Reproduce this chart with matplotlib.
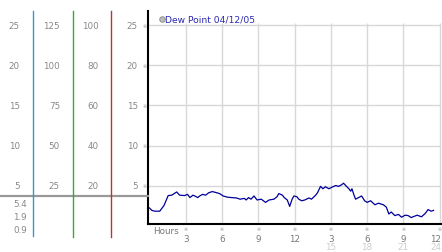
import matplotlib
matplotlib.use('Agg')
import matplotlib.pyplot as plt
import matplotlib.transforms as mtransforms
from matplotlib.lines import Line2D

# dew point readings over the day (hours, value)
hours = [0.0, 0.2, 0.45, 0.85, 1.2, 1.55, 1.85, 2.25, 2.5, 2.9, 3.15, 3.35, 3.6, 3.75,
         4.0, 4.15, 4.4, 4.65, 4.9, 5.2, 5.45, 5.8, 6.1, 6.45, 6.8, 7.2, 7.5, 7.85, 8.0,
         8.2, 8.4, 8.65, 8.9, 9.25, 9.6, 9.9, 10.3, 10.55, 10.7, 11.0, 11.15, 11.4, 11.6,
         11.8, 11.95, 12.2, 12.35, 12.6, 12.85, 13.2, 13.4, 13.75, 13.9, 14.15, 14.35,
         14.55, 14.85, 15.1, 15.4, 15.65, 15.9, 16.05, 16.3, 16.5, 16.65, 16.75, 16.9,
         17.05, 17.3, 17.55, 17.8, 18.0, 18.3, 18.65, 18.95, 19.35, 19.6, 19.8, 20.0,
         20.3, 20.6, 20.85, 21.15, 21.4, 21.65, 21.8, 22.15, 22.5, 22.8, 23.05, 23.3, 23.5]
dew = [2.2, 1.9, 1.8, 1.8, 2.5, 3.75, 3.8, 4.2, 3.8, 3.75, 3.9, 3.5, 3.8, 3.7,
       3.5, 3.7, 3.9, 3.8, 4.1, 4.25, 4.15, 4.0, 3.7, 3.55, 3.5, 3.45, 3.3, 3.4, 3.2,
       3.5, 3.3, 3.7, 3.2, 3.3, 2.9, 3.2, 3.3, 3.6, 4.0, 3.8, 3.5, 3.2, 2.4,
       3.3, 3.7, 3.6, 3.3, 3.1, 3.2, 3.45, 3.3, 3.8, 4.1, 4.9, 4.6,
       4.85, 4.6, 4.8, 5.0, 4.9, 5.1, 5.3, 4.9, 4.6, 4.3, 4.6, 3.9,
       3.3, 3.5, 3.7, 3.1, 2.9, 3.1, 2.6, 2.8, 2.6, 2.3, 1.45, 1.7,
       1.25, 1.4, 1.05, 1.3, 1.25, 1.0, 1.1, 1.3, 1.1, 1.5, 2.0, 1.8, 1.9]

y_ticks = [5, 10, 15, 20, 25]
col2_labels = ['25', '50', '75', '100', '125']
col3_labels = ['20', '40', '60', '80', '100']
low_labels = ['5.4', '1.9', '0.9']
x_ticks = [3, 6, 9, 12, 15, 18, 21, 24]
x_labels = ['3', '6', '9', '12', '3', '6', '9', '12']
x_labels2 = ['', '', '', '', '15', '18', '21', '24']

W, H = 442, 253
fig = plt.figure(figsize=(W / 100, H / 100), dpi=100)


def fx(px):
    return px / W


def fy(py):
    return 1 - py / H


ax = fig.add_axes([fx(148), fy(225), fx(442) - fx(148), fy(12) - fy(225)])
ax.set_xlim(-0.12, 24.2)
ax.set_ylim(0.2, 26.8)
for s in ['top', 'right']:
    ax.spines[s].set_visible(False)
for s in ['left', 'bottom']:
    ax.spines[s].set_linewidth(1.5)
    ax.spines[s].set_color('black')
ax.set_xticks([])
ax.set_yticks([])
ax.patch.set_alpha(0)

# grid
ax.vlines(x_ticks, 0.2, 25.3, color='#d8d8d8', lw=1, zorder=0)
ax.hlines(y_ticks, -0.12, 24.05, color='#d8d8d8', lw=1, zorder=0)

ax.plot(hours, dew, color='#000099', lw=0.9)

# legend / title
ax.plot([1.05], [25.85], 'o', ms=4, mfc='#bbbbbb', mec='#888888', mew=0.6, clip_on=False)
ax.text(1.3, 25.85, 'Dew Point 04/12/05', color='#2a2ab0', fontsize=6.6,
        va='center', ha='left')

# x tick marks and labels
bx = mtransforms.blended_transform_factory(ax.transData, fig.transFigure)
for t, l1, l2 in zip(x_ticks, x_labels, x_labels2):
    fig.text(t, fy(230), '※', transform=bx, ha='center', va='center', fontsize=3.5, color='#999999')
    if t == x_ticks[-1]:
        fig.text(fx(441), fy(239.5), l1, ha='right', va='center', fontsize=6.3, color='#777777')
        fig.text(fx(441), fy(248), l2, ha='right', va='center', fontsize=6.3, color='#cccccc')
        continue
    fig.text(t, fy(239.5), l1, transform=bx, ha='center', va='center', fontsize=6.3, color='#777777')
    if l2:
        fig.text(t, fy(248), l2, transform=bx, ha='center', va='center', fontsize=6.3, color='#cccccc')
fig.text(fx(153), fy(231.5), 'Hours', ha='left', va='center', fontsize=6.3, color='#777777')

# left panel
by = mtransforms.blended_transform_factory(fig.transFigure, ax.transData)
for v, l2, l3 in zip(y_ticks, col2_labels, col3_labels):
    fig.text(fx(20), v, str(v), transform=by, ha='right', va='center', fontsize=6.3, color='#888888')
    fig.text(fx(60), v, l2, transform=by, ha='right', va='center', fontsize=6.3, color='#888888')
    fig.text(fx(99), v, l3, transform=by, ha='right', va='center', fontsize=6.3, color='#888888')
    fig.text(fx(138), v, str(v), transform=by, ha='right', va='center', fontsize=6.3, color='#888888')
    fig.text(fx(145), v, '※', transform=by, ha='center', va='center', fontsize=3.5, color='#999999')
for i, l in enumerate(low_labels):
    fig.text(fx(27), fy(205 + 13 * i), l, ha='right', va='center', fontsize=6.3, color='#888888')

fig.add_artist(Line2D([0, fx(148)], [fy(197), fy(197)], color='#999999', lw=1.6))
fig.add_artist(Line2D([fx(33), fx(33)], [fy(12), fy(237)], color='#3399cc', lw=1.0))
fig.add_artist(Line2D([fx(72.5), fx(72.5)], [fy(12), fy(238)], color='#33aa33', lw=1.0))
fig.add_artist(Line2D([fx(111), fx(111)], [fy(12), fy(238)], color='#bb3333', lw=1.0))

fig.savefig('out.png', dpi=100)
